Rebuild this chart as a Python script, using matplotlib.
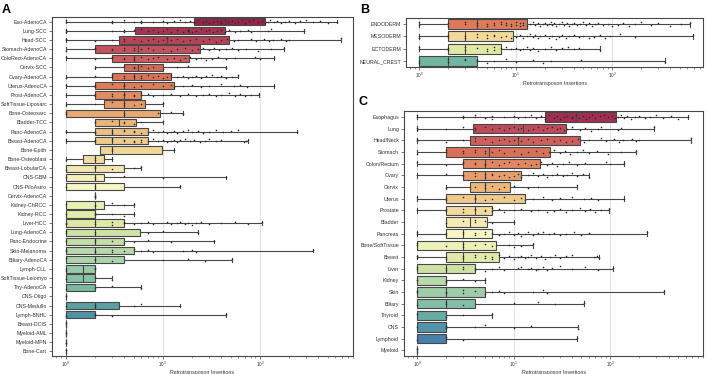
import numpy as np
import matplotlib.pyplot as plt
import colorsys

plt.rcParams['font.family'] = ['Liberation Sans', 'DejaVu Sans']

# ---- panel A: cancer types ----
a_labels = ["Eso-AdenoCA", "Lung-SCC", "Head-SCC", "Stomach-AdenoCA", "ColoRect-AdenoCA",
            "Cervix-SCC", "Ovary-AdenoCA", "Uterus-AdenoCA", "Prost-AdenoCA", "SoftTissue-Liposarc",
            "Bone-Osteosarc", "Bladder-TCC", "Panc-AdenoCA", "Breast-AdenoCA", "Bone-Epith",
            "Bone-Osteoblast", "Breast-LobularCA", "CNS-GBM", "CNS-PiloAstro", "Cervix-AdenoCA",
            "Kidney-ChRCC", "Kidney-RCC", "Liver-HCC", "Lung-AdenoCA", "Panc-Endocrine",
            "Skin-Melanoma", "Biliary-AdenoCA", "Lymph-CLL", "SoftTissue-Leiomyo", "Thy-AdenoCA",
            "CNS-Oligo", "CNS-Medullo", "Lymph-BNHL", "Breast-DCIS", "Myeloid-AML",
            "Myeloid-MPN", "Bone-Cart"]
a_q1 = [21, 5.2, 3.5, 2, 3, 4, 3, 2, 2, 2.5, 1, 2, 2, 2, 2.25, 1.5, 1, 1, 1, 2,
        1, 1, 1, 1, 1, 1, 1, 1, 1, 1, 1, 1, 1, 1, 1, 1, 1]
a_med = [44, 18.6, 11, 5.6, 5, 5.5, 5, 4, 4, 4, 4, 3.5, 3, 3, 3, 2, 2, 2, 2, 2,
         2, 2, 2, 2, 2, 2, 2, 1.5, 1.5, 2, 1, 2, 2, 1, 1, 1, 1]
a_q3 = [113, 43.5, 48, 24, 18.6, 10, 12, 13, 6, 6.5, 9.25, 5.25, 7, 7, 9.8, 2.5, 4, 2.5, 4, 2,
        2.5, 2, 4, 5.8, 4, 5, 4, 2, 2, 2, 1, 3.5, 2, 1, 1, 1, 1]
a_lo = [1, 1, 1, 1, 1, 2, 1, 1, 1, 1, 1, 2, 1, 1, 2.25, 1, 1, 1, 1, 2,
        1, 1, 1, 1, 1, 1, 1, 1, 1, 1, 1, 1, 1, 1, 1, 1, 1]
a_hi = [620, 282, 690, 178, 141, 45, 60, 138, 97, 10, 16, 10, 240, 75, 13, 3, 6, 45, 15, 2,
        5, 5, 105, 23, 34, 355, 52, 2, 3, 6, 1, 15, 45, 1, 1, 1, 1]
a_points = [
    [1, 1, 3, 3, 4, 4, 5, 6, 6, 8, 10, 11, 13, 15, 17, 19, 21, 21, 23, 26, 28, 30, 33, 36, 40, 40,
     44, 47, 52, 56, 60, 65, 70, 78, 85, 95, 105, 112, 120, 128, 140, 150, 165, 180, 200, 230,
     260, 300, 350, 420, 500, 620],
    [1, 1, 3, 4, 4, 5, 6, 7, 8, 9, 10, 11, 12, 14, 16, 18, 18, 20, 22, 25, 28, 30, 33, 36, 40, 44,
     48, 55, 63, 75, 81, 120, 129, 282],
    [1, 1, 2, 3, 4, 4, 5, 6, 7, 8, 9, 10, 11, 12, 14, 16, 19, 22, 26, 30, 35, 40, 46, 54, 60, 81,
     91, 110, 124, 135, 166, 186, 199, 690],
    [1, 2, 2, 3, 3, 4, 4, 5, 5, 6, 7, 8, 10, 12, 14, 17, 20, 23, 26, 30, 34, 38, 45, 52, 60, 72,
     95, 130, 178],
    [1, 2, 3, 3, 4, 4, 5, 5, 6, 7, 8, 9, 11, 13, 15, 17, 19, 22, 25, 28, 32, 37, 45, 55, 90, 100, 141],
    [2, 4, 5, 5, 6, 7, 8, 10, 14, 18, 45],
    [1, 2, 3, 3, 4, 4, 5, 5, 6, 6, 7, 8, 9, 10, 11, 12, 14, 16, 18, 20, 22, 25, 28, 32, 36, 40,
     45, 52, 60],
    [1, 2, 2, 3, 4, 4, 5, 6, 8, 10, 12, 13, 16, 20, 25, 30, 40, 54, 63, 74, 138],
    [1, 2, 2, 3, 3, 4, 4, 5, 5, 6, 6, 7, 8, 10, 12, 15, 18, 22, 26, 30, 35, 40, 48, 55, 62, 70, 80, 97],
    [1, 2, 3, 4, 4, 5, 6, 10],
    [1, 1, 4, 4, 9, 12, 16],
    [2, 3, 4, 4, 5, 6, 10],
    [1, 1, 2, 2, 3, 3, 4, 4, 5, 5, 6, 7, 8, 9, 10, 11, 12, 13, 14, 16, 18, 20, 23, 26, 30, 35, 42,
     50, 60, 240],
    [1, 1, 2, 2, 3, 3, 4, 4, 5, 5, 6, 6, 7, 8, 9, 10, 11, 12, 13, 14, 15, 17, 19, 21, 24, 27, 30,
     35, 40, 68, 72, 75],
    [3, 3, 13],
    [1, 2, 2, 3],
    [1, 2, 2, 3, 5, 6],
    [1, 2, 2, 4, 10, 45],
    [1, 2, 2, 15],
    [2, 2],
    [1, 2, 2, 3, 4, 5],
    [1, 2, 2, 3, 4, 5],
    [1, 1, 2, 2, 3, 3, 4, 4, 5, 6, 7, 8, 11, 12, 14, 15, 17, 18, 20, 22, 25, 30, 40, 55, 75, 105],
    [1, 1, 2, 2, 7, 10, 23],
    [1, 2, 2, 3, 4, 5, 7, 12, 34],
    [1, 1, 2, 2, 3, 3, 4, 5, 6, 7, 8, 16, 20, 22, 355],
    [1, 2, 2, 3, 10, 18, 27, 52],
    [1, 1, 2, 2],
    [1, 2, 3],
    [1, 2, 3, 6],
    [1],
    [1, 2, 2, 5, 6, 15],
    [1, 2, 2, 3, 45],
    [1], [1], [1], [1],
]

# ---- panel B: germ layers ----
b_labels = ["ENDODERM", "MESODERM", "ECTODERM", "NEURAL_CREST"]
b_q1 = [2, 2, 2, 1]
b_med = [4, 3, 3, 2]
b_q3 = [13, 9.3, 7, 4]
b_lo = [1, 1, 1, 1]
b_hi = [645, 690, 75, 355]
b_points = [
    [1, 1, 2, 2, 3, 3, 4, 4, 5, 5, 6, 6, 7, 7, 8, 8, 9, 9, 10, 10, 11, 11, 12, 12, 13, 14, 15, 16,
     17, 18, 19, 20, 21, 22, 23, 24, 25, 26, 28, 30, 32, 34, 36, 38, 40, 43, 46, 50, 54, 58, 62,
     67, 72, 80, 90, 100, 115, 130, 150, 170, 200, 250, 300, 400, 520, 645],
    [1, 1, 2, 2, 3, 3, 4, 4, 5, 5, 6, 6, 7, 8, 9, 10, 11, 12, 13, 14, 15, 16, 17, 18, 20, 22, 24,
     26, 28, 30, 33, 36, 40, 45, 50, 57, 65, 75, 85, 95, 120, 170, 690],
    [1, 1, 2, 2, 3, 3, 4, 5, 5, 6, 6, 7, 8, 9, 10, 11, 12, 13, 14, 15, 17, 20, 23, 26, 30, 35, 40,
     45, 75],
    [1, 1, 2, 2, 3, 3, 4, 4, 5, 6, 8, 10, 15, 19, 23, 47, 355],
]

# ---- panel C: tissues ----
c_labels = ["Esophagus", "Lung", "Head/Neck", "Stomach", "Colon/Rectum", "Ovary", "Cervix",
            "Uterus", "Prostate", "Bladder", "Pancreas", "Bone/SoftTissue", "Breast", "Liver",
            "Kidney", "Skin", "Biliary", "Thyroid", "CNS", "Lymphoid", "Myeloid"]
c_q1 = [21, 3.8, 3.5, 2, 3, 3, 3.5, 2, 2, 2, 2, 1, 2, 1, 1, 1, 1, 1, 1, 1, 1]
c_med = [44.5, 12.6, 11, 5.5, 5, 5, 5, 4, 4, 3.5, 3, 3, 3, 2, 2, 2, 2, 2, 2, 2, 1]
c_q3 = [115, 35, 48.5, 24, 18.7, 12, 9.1, 13, 6, 5.3, 6, 6.5, 7.1, 4, 2, 5, 4, 2, 2, 2, 1]
c_lo = [1, 1, 1, 1, 1, 1, 2, 1, 1, 2, 1, 1, 1, 1, 1, 1, 1, 1, 1, 1, 1]
c_hi = [635, 280, 690, 185, 140, 60, 45, 140, 98, 10, 240, 16, 76, 106, 5, 357, 53, 6, 46, 45, 1]
c_points = [
    [1, 1, 3, 3, 4, 4, 5, 6, 6, 8, 10, 11, 13, 15, 17, 19, 21, 21, 23, 26, 28, 30, 33, 36, 40, 40,
     44, 47, 52, 56, 60, 65, 70, 78, 85, 95, 105, 112, 120, 128, 140, 150, 165, 180, 200, 230,
     260, 300, 350, 420, 500, 635],
    [1, 1, 2, 3, 4, 4, 5, 6, 7, 8, 9, 10, 11, 12, 14, 16, 18, 20, 22, 25, 28, 30, 33, 36, 40, 48,
     55, 63, 75, 81, 120, 129, 280],
    [1, 1, 2, 3, 4, 4, 5, 6, 7, 8, 9, 10, 11, 12, 14, 16, 19, 22, 26, 30, 35, 40, 46, 54, 60, 81,
     91, 110, 124, 135, 166, 186, 199, 690],
    [1, 2, 2, 3, 3, 4, 4, 5, 5, 6, 7, 8, 10, 12, 14, 17, 20, 23, 26, 30, 34, 38, 45, 52, 60, 72,
     95, 130, 185],
    [1, 2, 3, 3, 4, 4, 5, 5, 6, 7, 8, 9, 11, 13, 15, 17, 19, 22, 25, 28, 32, 37, 45, 55, 90, 100, 140],
    [1, 2, 3, 3, 4, 4, 5, 5, 6, 6, 7, 8, 9, 10, 11, 12, 14, 16, 18, 20, 22, 25, 28, 32, 36, 40,
     45, 52, 60],
    [2, 4, 5, 5, 6, 7, 8, 10, 14, 18, 45],
    [1, 2, 2, 3, 4, 4, 5, 6, 8, 10, 12, 13, 16, 20, 25, 30, 40, 54, 63, 74, 140],
    [1, 2, 2, 3, 3, 4, 4, 5, 5, 6, 6, 7, 8, 10, 12, 15, 18, 22, 26, 30, 35, 40, 48, 55, 62, 70, 80, 98],
    [2, 3, 4, 4, 5, 6, 10],
    [1, 1, 2, 2, 3, 3, 4, 4, 5, 5, 6, 7, 8, 9, 10, 11, 12, 13, 14, 16, 18, 20, 23, 26, 30, 35, 42,
     50, 60, 240],
    [1, 1, 2, 3, 3, 4, 5, 6, 9, 10, 12, 16],
    [1, 1, 2, 2, 3, 3, 4, 4, 5, 5, 6, 6, 7, 8, 9, 10, 11, 12, 13, 14, 15, 17, 19, 21, 24, 27, 30,
     35, 40, 68, 72, 76],
    [1, 1, 2, 2, 3, 3, 4, 4, 5, 6, 7, 8, 11, 12, 14, 15, 17, 18, 20, 22, 25, 30, 40, 55, 75, 106],
    [1, 2, 2, 3, 4, 5],
    [1, 1, 2, 2, 3, 3, 4, 5, 6, 7, 8, 16, 20, 22, 357],
    [1, 2, 2, 3, 10, 18, 27, 53],
    [1, 2, 3, 6],
    [1, 2, 2, 4, 5, 10, 15, 46],
    [1, 2, 2, 3, 45],
    [1],
]

GRAY = "#474747"
TXT = "#333333"


def spectral(n):
    cols = plt.get_cmap("Spectral")(np.linspace(0, 1, n + 2)[1:-1])
    out = []
    for c in cols:
        h, l, s = colorsys.rgb_to_hls(*c[:3])
        out.append(colorsys.hls_to_rgb(h, l, s * 0.75))
    return out


def panel(ax, labels, q1, med, q3, lo, hi, points, xlim):
    n = len(labels)
    stats = [dict(q1=q1[i], med=med[i], q3=q3[i], whislo=lo[i], whishi=hi[i], fliers=[])
             for i in range(n)]
    bp = ax.bxp(stats, positions=range(n), widths=0.8, capwidths=0.4,
                orientation="horizontal", patch_artist=True, showfliers=False,
                boxprops=dict(edgecolor=GRAY, linewidth=0.8),
                medianprops=dict(color=GRAY, linewidth=0.8),
                whiskerprops=dict(color=GRAY, linewidth=0.8),
                capprops=dict(color=GRAY, linewidth=0.8))
    for patch, col in zip(bp["boxes"], spectral(n)):
        patch.set_facecolor(col)
    for i, vals in enumerate(points):
        k = np.arange(len(vals))
        jit = ((k * 0.618 + i * 0.31) % 1 - 0.5) * 0.36
        ax.scatter(vals, i + jit, s=1.3, color="#2a2a2a", linewidths=0, zorder=3)

    ax.set_xscale("log")
    ax.set_xlim(*xlim)
    ax.set_ylim(n - 0.5, -0.5)
    ax.set_yticks(range(n))
    ax.set_yticklabels(labels, fontsize=3.8, color=TXT)
    ax.tick_params(axis="y", length=2, width=0.5, pad=1.5, colors=GRAY, labelcolor=TXT)
    ax.tick_params(axis="x", which="major", length=2.5, width=0.5, pad=0.5,
                   labelsize=3.3, colors=GRAY, labelcolor=TXT)
    ax.tick_params(axis="x", which="minor", length=1.3, width=0.4, colors=GRAY)
    ax.grid(axis="x", which="major", color="#dcdcdc", linewidth=0.6)
    ax.set_axisbelow(True)
    ax.set_xlabel("Retrotransposon Insertions", fontsize=3.8, color=TXT, labelpad=0.5)
    for sp in ax.spines.values():
        sp.set_color(GRAY)
        sp.set_linewidth(0.8)


fig = plt.figure(figsize=(7.08, 3.74), dpi=100)
axA = fig.add_axes([0.0734, 0.0481, 0.4252, 0.9064])
axB = fig.add_axes([0.5734, 0.8209, 0.4196, 0.131])
axC = fig.add_axes([0.5706, 0.0481, 0.4224, 0.655])

panel(axA, a_labels, a_q1, a_med, a_q3, a_lo, a_hi, a_points, (0.72, 910))
panel(axB, b_labels, b_q1, b_med, b_q3, b_lo, b_hi, b_points, (0.733, 870))
panel(axC, c_labels, c_q1, c_med, c_q3, c_lo, c_hi, c_points, (0.733, 910))

fig.text(0.003, 0.99, "A", fontsize=9, fontweight="bold", va="top")
fig.text(0.509, 0.99, "B", fontsize=9, fontweight="bold", va="top")
fig.text(0.507, 0.743, "C", fontsize=9, fontweight="bold", va="top")

fig.savefig("out.png", dpi=100)
